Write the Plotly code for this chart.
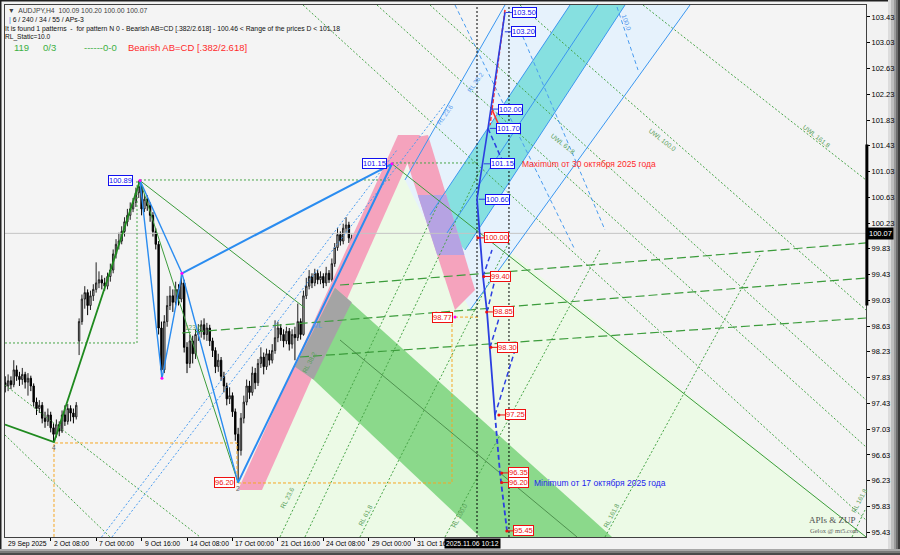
import plotly.graph_objects as go

# ---------------- candles (AUDJPY H4), bar index 0 = 2 Oct 08:00 ----------------
first_bar = -16
opens = [97.75, 97.70, 97.78, 97.72, 97.95, 97.85, 97.80, 97.88, 97.76, 97.82, 97.70, 97.45, 97.35, 97.40, 97.20, 97.15, 97.25, 97.05, 96.95, 97.10, 97.00, 97.25, 97.15, 97.35, 97.28, 97.22,
         98.40, 98.70, 99.05, 99.15, 98.95, 99.10, 99.20, 99.30, 99.35, 99.30, 99.25, 99.40, 99.50, 99.75, 99.90, 99.95, 100.10, 100.25, 100.35, 100.45, 100.55, 100.70,
         100.80, 100.45, 100.60, 100.50, 100.35, 100.10, 99.90, 98.60,
         97.95, 98.70, 98.95, 99.10, 99.00, 99.20, 99.05, 99.30,
         98.30, 98.05, 98.40, 98.20, 98.50, 98.55, 98.65, 98.50, 98.60, 98.40, 98.25, 98.00, 98.10, 97.85, 97.70, 97.50, 97.55, 97.30, 96.95, 96.70, 97.20, 97.45, 97.70, 97.60,
         97.90, 97.75, 98.05, 98.15, 98.00, 98.20, 98.10, 98.25, 98.45, 98.60, 98.50, 98.40, 98.55, 98.35, 98.50, 98.45, 98.70, 98.50, 99.10, 99.25, 99.40, 99.30, 99.45,
         99.35, 99.40, 99.30, 99.45, 99.35, 99.60, 99.85, 100.05, 99.95, 100.15, 100.20, 100.00, 99.75, 99.50, 99.55, 99.70, 99.65, 99.95, 100.20, 100.10, 100.35, 100.55, 100.45, 100.70, 100.85, 100.75,
         100.95, 100.85, 101.00, 100.80, 100.90, 100.70, 100.65, 100.80, 100.75, 100.90, 101.00, 100.85, 100.95, 100.80, 100.65, 100.55, 100.50, 99.95, 99.75, 99.55, 99.70, 99.60, 98.95, 99.55, 99.70, 99.85, 100.20, 100.05, 100.15, 100.09]
highs = [97.85, 97.88, 97.85, 98.10, 98.02, 97.92, 97.98, 97.92, 97.90, 97.86, 97.74, 97.52, 97.48, 97.45, 97.30, 97.35, 97.30, 97.12, 97.18, 97.15, 97.32, 97.40, 97.42, 97.40, 97.35, 97.45,
         98.75, 99.12, 99.25, 99.20, 99.18, 99.28, 99.62, 99.48, 99.42, 99.38, 99.46, 99.60, 99.82, 99.98, 100.08, 100.18, 100.32, 100.45, 100.55, 100.62, 100.78, 100.89,
         100.85, 100.68, 100.66, 100.55, 100.40, 100.15, 99.95, 98.70,
         98.80, 99.10, 99.25, 99.20, 99.32, 99.28, 99.45, 99.35,
         98.38, 98.50, 98.48, 98.58, 98.66, 98.72, 98.75, 98.68, 98.65, 98.45, 98.30, 98.20, 98.15, 97.92, 97.75, 97.68, 97.60, 97.35, 97.05, 97.28, 97.55, 97.80, 97.78, 98.00,
         97.98, 98.12, 98.30, 98.22, 98.28, 98.26, 98.35, 98.72, 98.70, 98.66, 98.58, 98.62, 98.60, 98.58, 98.62, 98.98, 98.75, 99.18, 99.38, 99.50, 99.45, 99.52, 99.50,
         99.48, 99.45, 99.55, 99.50, 99.68, 99.92, 100.15, 100.10, 100.22, 100.32, 100.25, 100.05, 99.80, 99.65, 99.78, 99.80, 100.05, 100.28, 100.25, 100.45, 100.65, 100.62, 100.78, 100.95, 100.92, 101.15,
         101.05, 101.10, 101.05, 100.98, 100.95, 100.78, 100.88, 100.86, 100.98, 101.08, 101.04, 101.02, 100.98, 100.85, 100.72, 100.62, 100.55, 100.02, 99.80, 99.78, 99.75, 99.65, 99.62, 99.80, 99.95, 100.30, 100.25, 100.22, 100.20, 100.20]
lows = [97.60, 97.62, 97.65, 97.68, 97.78, 97.70, 97.72, 97.66, 97.55, 97.62, 97.38, 97.25, 97.28, 97.12, 97.05, 97.08, 96.98, 96.83, 96.90, 96.92, 96.97, 97.08, 97.10, 97.15, 97.12, 97.18,
        98.18, 98.65, 98.90, 98.80, 98.88, 99.02, 99.15, 99.22, 99.20, 99.18, 99.20, 99.32, 99.45, 99.68, 99.82, 99.90, 100.02, 100.18, 100.28, 100.40, 100.48, 100.62,
        100.35, 100.40, 100.42, 100.25, 100.02, 99.82, 98.50, 97.82,
        97.90, 98.62, 98.88, 98.85, 98.95, 98.95, 99.00, 98.22,
        97.90, 97.98, 98.05, 98.12, 98.40, 98.45, 98.42, 98.40, 98.32, 98.15, 97.90, 97.92, 97.78, 97.60, 97.40, 97.42, 97.22, 96.85, 96.20, 96.62, 97.12, 97.40, 97.50, 97.55,
        97.65, 97.70, 97.98, 97.88, 97.95, 98.02, 98.05, 98.20, 98.38, 98.40, 98.30, 98.35, 98.25, 98.28, 98.10, 98.40, 98.42, 98.48, 99.05, 99.20, 99.22, 99.25, 99.28,
        99.28, 99.22, 99.25, 99.30, 99.32, 99.55, 99.80, 99.88, 99.90, 100.08, 99.92, 99.68, 99.38, 99.42, 99.48, 99.55, 99.60, 99.90, 100.02, 100.05, 100.30, 100.38, 100.40, 100.65, 100.68, 100.70,
        100.78, 100.80, 100.72, 100.74, 100.64, 100.58, 100.60, 100.66, 100.70, 100.85, 100.78, 100.80, 100.72, 100.55, 100.45, 100.30, 99.88, 99.62, 99.45, 99.48, 99.50, 98.77, 98.90, 99.50, 99.65, 99.80, 99.98, 100.00, 100.02, 100.00]
closes = [97.70, 97.78, 97.72, 97.95, 97.85, 97.80, 97.88, 97.76, 97.82, 97.70, 97.45, 97.35, 97.40, 97.20, 97.15, 97.25, 97.05, 96.95, 97.10, 97.00, 97.25, 97.15, 97.35, 97.28, 97.22, 97.40,
          98.70, 99.05, 99.15, 98.95, 99.10, 99.20, 99.30, 99.35, 99.30, 99.25, 99.40, 99.50, 99.75, 99.90, 99.95, 100.10, 100.25, 100.35, 100.45, 100.55, 100.70, 100.80,
          100.45, 100.60, 100.50, 100.35, 100.10, 99.90, 98.60, 97.95,
          98.70, 98.95, 99.10, 99.00, 99.20, 99.05, 99.30, 98.30,
          98.05, 98.40, 98.20, 98.50, 98.55, 98.65, 98.50, 98.60, 98.40, 98.25, 98.00, 98.10, 97.85, 97.70, 97.50, 97.55, 97.30, 96.95, 96.70, 97.20, 97.45, 97.70, 97.60, 97.90,
          97.75, 98.05, 98.15, 98.00, 98.20, 98.10, 98.25, 98.45, 98.60, 98.50, 98.40, 98.55, 98.35, 98.50, 98.45, 98.70, 98.50, 99.10, 99.25, 99.40, 99.30, 99.45, 99.35,
          99.40, 99.30, 99.45, 99.35, 99.60, 99.85, 100.05, 99.95, 100.15, 100.20, 100.00, 99.75, 99.50, 99.55, 99.70, 99.65, 99.95, 100.20, 100.10, 100.35, 100.55, 100.45, 100.70, 100.85, 100.75, 100.95,
          100.85, 101.00, 100.80, 100.90, 100.70, 100.65, 100.80, 100.75, 100.90, 101.00, 100.85, 100.95, 100.80, 100.65, 100.55, 100.50, 99.95, 99.75, 99.55, 99.70, 99.60, 98.95, 99.55, 99.70, 99.85, 100.20, 100.05, 100.15, 100.10, 100.07]
n = min(len(opens), len(highs), len(lows), len(closes))
bars = list(range(first_bar, first_bar + n))
bid_price = 100.07

x_range = [-16.09, 287.08]
y_range = [95.355, 103.616]

price_ticks = [95.43, 95.83, 96.23, 96.63, 97.03, 97.43, 97.83, 98.23, 98.63, 99.03, 99.43,
               99.83, 100.23, 100.63, 101.03, 101.43, 101.83, 102.23, 102.63, 103.03, 103.43]
time_tick_bars = [0, 16, 32, 48, 64, 80, 96, 112, 128]
time_tick_text = ["2 Oct 08:00", "7 Oct 00:00", "9 Oct 16:00", "14 Oct 08:00", "17 Oct 00:00",
                  "21 Oct 16:00", "24 Oct 08:00", "29 Oct 00:00", "31 Oct 16:00"]

# ---------------- pattern pivots (bar, price) ----------------
green_zz_x = [-16.09, 1.16, 31.44]
green_zz_y = [97.10, 96.83, 100.89]
blue_zz_x = [31.44, 39.19, 46.23, 65.95]
blue_zz_y = [100.89, 97.82, 99.45, 96.20]
blue_ac_x = [31.44, 46.23]
blue_ac_y = [100.89, 99.45]
abcd_x = [46.23, 120.18, 65.95]
abcd_y = [99.45, 101.15, 96.20]

# filled zones (bar, price vertices)
zone_lightgreen_x = [66.66, 66.66, 121.23, 287.08]
zone_lightgreen_y = [95.356, 96.163, 101.21, 95.356]
zone_lightblue_x = [124.75, 159.96, 225.11, 147.64]
zone_lightblue_y = [100.899, 103.616, 103.616, 98.88]
zone_cyan_x = [133.56, 145.88, 202.22, 182.85]
zone_cyan_y = [100.356, 99.812, 103.616, 103.616]
zone_pink1_x = [65.95, 74.40, 130.04, 122.29]
zone_pink1_y = [96.085, 96.085, 101.598, 101.598]
zone_pink2_x = [122.99, 132.85, 149.40, 142.36]
zone_pink2_y = [101.52, 101.598, 99.191, 98.88]
zone_purple_x = [129.26, 139.26, 145.67, 136.09]
zone_purple_y = [100.666, 100.666, 99.734, 99.734]
zone_green_x = [87.08, 100.11, 197.64, 151.16]
zone_green_y = [98.026, 99.222, 95.356, 95.356]
zone_gray_x = [86.0, 100.11, 106.0, 92.5]
zone_gray_y = [98.00, 99.222, 99.00, 97.80]

# dotted green fan lines ((x0, y0, x1, y1))
uwl_lines = [(88.84, 103.616, 287.08, 95.619), (114.89, 103.616, 287.08, 96.753),
             (133.56, 103.616, 287.08, 97.483), (165.25, 103.616, 287.08, 98.88),
             (208.56, 103.616, 287.08, 100.899), (-16.09, 97.716, 52.57, 95.356),
             (-16.09, 96.939, 20.88, 95.356)]
rl_lines = [(80.74, 95.356, 137.08, 100.588), (89.54, 95.356, 151.16, 101.054),
            (108.91, 95.356, 161.73, 99.967), (138.84, 95.356, 193.42, 99.812),
            (195.18, 95.356, 249.75, 99.734), (282.15, 95.356, 287.08, 95.806)]
ml_lines = [(101.87, 99.268, 287.08, 99.921), (46.23, 98.523, 287.08, 99.377),
            (87.78, 98.150, 287.08, 98.756)]
blue_dot_lines = [(21.58, 95.356, 138.84, 102.079), (17.92, 95.356, 121.94, 101.365)]
blue_dash_lines = [(142.36, 103.616, 184.61, 99.812), (165.25, 103.228, 195.18, 100.122),
                   (199.40, 103.585, 206.80, 102.607)]
blue_band_lines = [(133.56, 100.356, 182.85, 103.616), (145.88, 99.812, 202.22, 103.616),
                   (139.54, 100.076, 192.71, 103.616), (124.75, 100.899, 159.96, 103.616),
                   (147.64, 98.88, 225.11, 103.616)]

# projection (AB=CD targets)
proj_up_x = [150.11, 153.98, 159.96]
proj_up_y = [100.60, 101.70, 103.50]
proj_down_x = [150.11, 152.22, 153.63, 154.68, 156.44]
proj_down_y = [100.60, 99.40, 98.85, 98.30, 97.25]
proj_tail_x = [156.44, 158.20, 160.67]
proj_tail_y = [97.25, 96.35, 95.45]
proj_zig = [(152.22, 99.40, 155.39, 99.81), (153.63, 98.85, 156.44, 99.35),
            (154.68, 98.30, 158.20, 98.80), (156.44, 97.25, 163.49, 98.26),
            (153.98, 101.70, 158.91, 101.21)]
red_dash_x = [159.96, 154.68]
red_dash_y = [103.54, 101.75]
red_seg_x = [155.04, 157.50]
red_seg_y = [102.03, 101.78]

blue_levels = [103.50, 103.20, 102.00, 101.70, 101.15, 100.60]
blue_level_bars = [162.4, 162.1, 157.5, 156.8, 154.7, 152.9]
red_levels = [100.00, 99.40, 98.85, 98.30, 97.25, 96.35, 96.20, 95.45]
red_level_bars = [152.6, 154.7, 155.7, 157.2, 160.0, 161.0, 161.0, 162.8]
pivot_labels = [("100.89", 28.98, 100.89, "#1010ee"), ("101.15", 118.42, 101.15, "#1010ee"),
                ("98.77", 141.5, 98.77, "#ee1010"), ("96.20", 64.9, 96.20, "#ee1010")]

FONT = "Liberation Sans"
fig = go.Figure()


def poly(xs, ys, color):
    fig.add_trace(go.Scatter(x=xs + [xs[0]], y=ys + [ys[0]], mode="lines", fill="toself",
                             fillcolor=color, line=dict(width=0, color=color),
                             hoverinfo="skip", showlegend=False))


def line(xs, ys, color, width=1.0, dash="solid"):
    fig.add_trace(go.Scatter(x=xs, y=ys, mode="lines", line=dict(color=color, width=width, dash=dash),
                             hoverinfo="skip", showlegend=False))


poly(zone_lightgreen_x, zone_lightgreen_y, "#ecfae6")
poly(zone_lightblue_x, zone_lightblue_y, "#e6f2fc")
poly(zone_cyan_x, zone_cyan_y, "#86e0e0")
poly(zone_pink1_x, zone_pink1_y, "#f5a3bd")
poly(zone_pink2_x, zone_pink2_y, "#f5a3bd")
poly(zone_purple_x, zone_purple_y, "#b6a3e3")
poly(zone_green_x, zone_green_y, "#8bd98b")
poly(zone_gray_x, zone_gray_y, "#a4a4a4")

# bid line
line([x_range[0], x_range[1]], [bid_price, bid_price], "#c4c4c4", 1)

fig.add_trace(go.Candlestick(
    x=bars, open=opens[:n], high=highs[:n], low=lows[:n], close=closes[:n],
    increasing=dict(line=dict(color="#202020", width=1), fillcolor="#d8d8d8"),
    decreasing=dict(line=dict(color="#000000", width=1), fillcolor="#000000"),
    whiskerwidth=0, hoverinfo="skip", showlegend=False))

GD = "#47a447"
for (x0, y0, x1, y1) in uwl_lines + rl_lines:
    line([x0, x1], [y0, y1], GD, 1, "2px,2px")
for (x0, y0, x1, y1) in ml_lines:
    line([x0, x1], [y0, y1], "#3c9c3c", 1.2, "9px,4px")
for (x0, y0, x1, y1) in blue_dot_lines:
    line([x0, x1], [y0, y1], "#4a9cf0", 1, "2px,2px")
for (x0, y0, x1, y1) in blue_dash_lines:
    line([x0, x1], [y0, y1], "#4a9cf0", 1, "4px,3px")
for (x0, y0, x1, y1) in blue_band_lines:
    line([x0, x1], [y0, y1], "#3a96f0", 1)

# horizontal / vertical helper levels
line([-16.09, 30.39, 30.39], [98.368, 98.368, 100.899], GD, 1, "2px,2px")
line([31.44, 119.47], [100.899, 100.899], GD, 1, "2px,2px")
line([120.18, 151.16], [101.163, 101.163], GD, 1, "2px,2px")
OR = "#f5a623"
line([1.16, 1.16, 65.6, 65.6], [95.356, 96.815, 96.815, 96.194], OR, 1, "3px,2px")
line([65.95, 141.30, 141.30], [96.194, 96.194, 98.77], OR, 1, "3px,2px")
line([142.36, 151.16], [98.77, 98.77], OR, 1, "3px,2px")
line([150.11, 150.11], [y_range[0], y_range[1]], "#000000", 1, "2px,2px")
line([161.37, 161.37], [y_range[0], y_range[1]], "#000000", 1, "2px,2px")

# green thin lines
line([31.44, 65.95], [100.89, 96.20], "#3c9c3c", 1)
line([31.44, 89.54], [100.89, 98.911], "#3c9c3c", 1)
line([120.18, 287.08], [101.15, 95.356], "#3c9c3c", 1)
line([101.87, 185.32], [98.414, 95.356], "#3f7f3f", 0.8)
line(green_zz_x, green_zz_y, "#1f8a1f", 1.8)

# blue zigzag
line(blue_zz_x, blue_zz_y, "#2a8cf0", 1.4)
line(blue_ac_x, blue_ac_y, "#2a8cf0", 1.4)
line(abcd_x, abcd_y, "#2a8cf0", 2)

# projections
PB = "#2c3fe0"
line(red_dash_x, red_dash_y, "#ff3030", 1.5, "4px,2px")
line(red_seg_x, red_seg_y, "#ff3030", 1.5)
line(proj_up_x, proj_up_y, PB, 1.6)
line(proj_down_x, proj_down_y, PB, 1.8)
line(proj_tail_x, proj_tail_y, PB, 1.8, "5px,3px")
for (x0, y0, x1, y1) in proj_zig:
    line([x0, x1], [y0, y1], PB, 1.5, "5px,3px")

# connectors to level labels
for b, lv in zip(blue_level_bars, blue_levels):
    line([b - 2.2, b], [lv, lv], PB, 1)
for b, lv in zip(red_level_bars, red_levels):
    line([b - 2.2, b], [lv, lv], "#ee1010", 1)
fig.add_trace(go.Scatter(x=[b - 2.2 for b in red_level_bars], y=red_levels, mode="markers",
                         marker=dict(size=3, color="#ee1010"), hoverinfo="skip", showlegend=False))

# pivot dots
fig.add_trace(go.Scatter(x=[31.44, 39.19, 46.23, 120.18, 142.36], y=[100.89, 97.82, 99.45, 101.15, 98.77],
                         mode="markers", marker=dict(size=3, color="#ff00ff"), hoverinfo="skip", showlegend=False))

ann = []


def box(text, x, y, color, anchor="left", size=7.5):
    ann.append(dict(x=x, y=y, xref="x", yref="y", text=text, showarrow=False, xanchor=anchor,
                    yanchor="middle", font=dict(family=FONT, size=size, color=color),
                    bgcolor="#ffffff", bordercolor=color, borderwidth=1, borderpad=0))


for b, lv in zip(blue_level_bars, blue_levels):
    box("%.2f" % lv, b, lv, "#1010ee")
for b, lv in zip(red_level_bars, red_levels):
    box("%.2f" % lv, b, lv, "#ee1010")
for t, b, lv, c in pivot_labels:
    box(t, b, lv, c, anchor="right")

ann.append(dict(x=165.25, y=101.15, xref="x", yref="y", text="Maximum от 30 октября 2025 года",
                showarrow=False, xanchor="left", yanchor="middle",
                font=dict(family=FONT, size=8.5, color="#ff2a2a")))
ann.append(dict(x=169.47, y=96.20, xref="x", yref="y", text="Minimum от 17 октября 2025 года",
                showarrow=False, xanchor="left", yanchor="middle",
                font=dict(family=FONT, size=8.5, color="#2323ee")))

# rotated fan labels
fan_labels = [("UWL 161.8", 269.82, 101.567, 38, "#5aa05a"), ("UWL 100.0", 215.25, 101.52, 38, "#5aa05a"),
              ("UWL 61.8", 180.39, 101.473, 38, "#5aa05a"), ("RL 23.6", 83.2, 95.976, -62, "#5aa05a"),
              ("RL 38.2", 91.3, 98.073, -62, "#5aa05a"), ("RL 61.8", 111.02, 95.697, -62, "#5aa05a"),
              ("RL 100.0", 144.12, 95.697, -62, "#5aa05a"), ("RL 161.8", 197.64, 95.697, -62, "#5aa05a"),
              ("RL 161.8", 284.96, 95.93, -62, "#5aa05a"), ("RL 23.6", 138.84, 101.908, -55, "#5599ee"),
              ("RL 38.2", 149.75, 102.421, -55, "#5599ee"), ("100.0", 202.93, 103.352, 70, "#5599ee")]
for t, x, y, a, c in fan_labels:
    ann.append(dict(x=x, y=y, xref="x", yref="y", text=t, showarrow=False, textangle=a,
                    font=dict(family=FONT, size=6.5, color=c)))
ann.append(dict(x=46.6, y=98.523, xref="x", yref="y", text="123.6", showarrow=False, xanchor="left",
                yanchor="bottom", font=dict(family=FONT, size=6.5, color="#5aa05a")))
ann.append(dict(x=94.1, y=98.647, xref="x", yref="y", text="ML", showarrow=False,
                font=dict(family=FONT, size=6.5, color="#5599ee")))
ann.append(dict(x=1.16, y=96.83, xref="x", yref="y", text="4", showarrow=False, yanchor="top",
                font=dict(family=FONT, size=6.5, color="#606060")))
ann.append(dict(x=65.95, y=96.20, xref="x", yref="y", text="2", showarrow=False, yanchor="top",
                font=dict(family=FONT, size=6.5, color="#606060")))


def px_x(X):
    return (X - 5) / 861.0


def px_y(Y):
    return (537 - Y) / 532.0


def ptext(text, X, Y, size, color, anchor="left", family=FONT):
    ann.append(dict(x=px_x(X), y=px_y(Y), xref="paper", yref="paper", text=text, showarrow=False,
                    xanchor=anchor, yanchor="middle", font=dict(family=family, size=size, color=color)))


ptext("▼  AUDJPY,H4  100.09 100.20 100.00 100.07", 6, 10, 6.8, "#404040")
ptext("<span style='color:#2a6fe0'>|</span> 6 / 240 / 34 / 55 / APs-3", 7, 20, 6.8, "#101010")
ptext("It is found 1 patterns  -  for pattern N 0 - Bearish AB=CD [.382/2.618] - 100.46 &lt; Range of the prices D &lt; 101,18",
      3, 29, 6.8, "#101010")
ptext("RL_Static=10.0", 3, 37.5, 6.6, "#101010")
ptext("119", 12, 47, 9.5, "#3cb043")
ptext("0/3", 41, 47, 9.5, "#3cb043")
ptext("------0-0", 82, 47, 9.5, "#3cb043")
ptext("Bearish AB=CD [.382/2.618]", 126, 47, 9.5, "#ff2a2a")
ptext("APIs &amp; ZUP", 858, 520, 9, "#505050", anchor="right", family="Liberation Serif")
ptext("Gelox @ mt5.com", 860, 530, 6.5, "#606060", anchor="right", family="Liberation Serif")

# time axis labels
ann.append(dict(x=-15.74, y=0, xref="x", yref="paper", text="29 Sep 2025", showarrow=False,
                xanchor="left", yanchor="top", yshift=-1, font=dict(family=FONT, size=6.8, color="#000000")))
for b, t in zip(time_tick_bars, time_tick_text):
    ann.append(dict(x=b, y=0, xref="x", yref="paper", text=t, showarrow=False, xanchor="left",
                    yanchor="top", xshift=1, yshift=-1, font=dict(family=FONT, size=6.8, color="#000000")))
ann.append(dict(x=148.4, y=0, xref="x", yref="paper", text="2025.11.06 10:12", showarrow=False,
                xanchor="center", yanchor="top", yshift=-1, bgcolor="#000000", borderpad=1,
                font=dict(family=FONT, size=6.8, color="#ffffff")))
ann.append(dict(x=1, y=bid_price, xref="paper", yref="y", text="100.07", showarrow=False,
                xanchor="left", yanchor="middle", xshift=1, bgcolor="#000000", borderpad=1,
                font=dict(family=FONT, size=7.5, color="#ffffff")))

shapes = []


def prect(X0, Y0, X1, Y1, color):
    shapes.append(dict(type="rect", xref="paper", yref="paper", x0=px_x(X0), x1=px_x(X1),
                       y0=px_y(Y1), y1=px_y(Y0), fillcolor=color, line=dict(width=0), layer="below"))


prect(0, 0, 900, 1.5, "#202020")
prect(0, 0, 1.5, 555, "#202020")
prect(888, 0, 891, 555, "#dcdcdc")
prect(891, 0, 894, 555, "#bdbdbd")
prect(894, 0, 896, 555, "#9a9a9a")
prect(896, 0, 898, 555, "#6e6e6e")
prect(898, 0, 900, 555, "#3a3a3a")
prect(0, 549, 900, 551, "#a8a8a8")
prect(0, 551, 900, 553, "#7a7a7a")
prect(0, 553, 900, 555, "#4a4a4a")
shapes.append(dict(type="line", xref="paper", yref="y", x0=1.001, x1=1.001, y0=98.95, y1=101.45,
                   line=dict(color="#000000", width=3)))

fig.update_layout(
    width=900, height=555, margin=dict(l=5, r=34, t=5, b=18),
    paper_bgcolor="#f2f2f2", plot_bgcolor="#f4f4f4",
    annotations=ann, shapes=shapes, showlegend=False,
    xaxis=dict(range=x_range, showgrid=False, zeroline=False, rangeslider=dict(visible=False),
               tickvals=time_tick_bars, showticklabels=False, ticks="outside", ticklen=3,
               tickcolor="#000000", showline=True, linecolor="#404040", mirror=True, fixedrange=True),
    yaxis=dict(range=y_range, side="right", showgrid=False, zeroline=False, tickvals=price_ticks,
               ticktext=["%.2f" % v for v in price_ticks], ticks="outside", ticklen=3,
               tickcolor="#000000", tickfont=dict(family=FONT, size=7.5, color="#000000"),
               showline=True, linecolor="#404040", mirror=True, fixedrange=True),
)

fig.write_html("out.html", config={"displayModeBar": False},
               post_script="document.body.style.margin='0';document.body.style.overflow='hidden';")
